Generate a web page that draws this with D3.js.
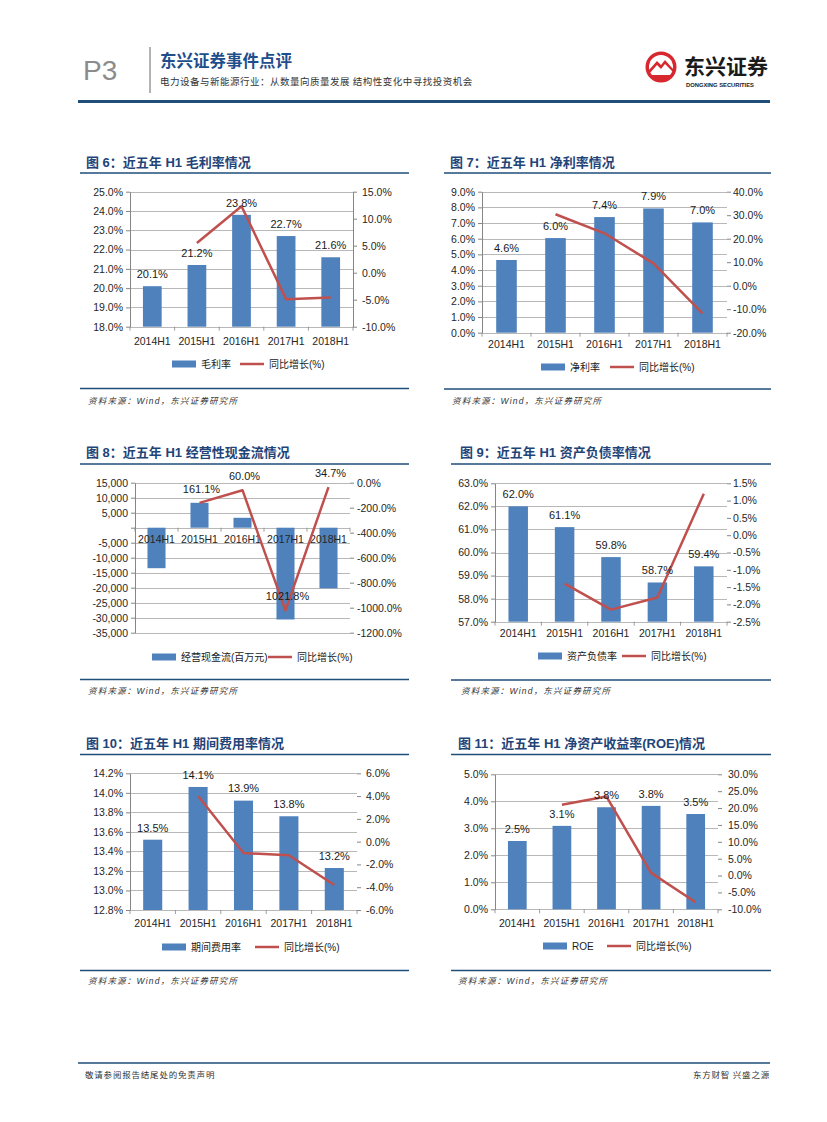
<!DOCTYPE html>
<html><head><meta charset="utf-8">
<script src="https://cdn.jsdelivr.net/npm/d3@7"></script>
<style>
body{margin:0;background:#fff;}
svg{display:block;font-family:"Liberation Sans",Arial,"Noto Sans CJK SC",sans-serif;}
</style></head><body>
<svg id="page" width="827" height="1122"></svg>
<script>
// ---------- DATA ----------
const categories = ["2014H1","2015H1","2016H1","2017H1","2018H1"];

// 图6 毛利率
const grossMargin = [20.1, 21.2, 23.8, 22.7, 21.6];
const grossMarginYoY = [null, 5.5, 12.3, -4.9, -4.6];
const grossLeftTicks = [18, 19, 20, 21, 22, 23, 24, 25];
const grossRightTicks = [-10, -5, 0, 5, 10, 15];

// 图7 净利率
const netMargin = [4.64, 6.04, 7.38, 7.93, 7.04];
const netMarginYoY = [null, 30.4, 22.3, 9.5, -11.8];
const netLeftTicks = [0, 1, 2, 3, 4, 5, 6, 7, 8, 9];
const netRightTicks = [-20, -10, 0, 10, 20, 30, 40];

// 图8 经营性现金流
const cashFlow = [-13500, 8300, 3300, -30600, -20200];
const cashFlowYoY = [null, -161.1, -60.0, -1021.8, -34.7];
const cashLeftTicks = [15000, 10000, 5000, 0, -5000, -10000, -15000, -20000, -25000, -30000, -35000];
const cashRightTicks = [0, -200, -400, -600, -800, -1000, -1200];

// 图9 资产负债率
const debtRatio = [62.0, 61.1, 59.8, 58.7, 59.4];
const debtRatioYoY = [null, -1.4, -2.15, -1.8, 1.2];
const debtLeftTicks = [57, 58, 59, 60, 61, 62, 63];
const debtRightTicks = [-2.5, -2.0, -1.5, -1.0, -0.5, 0, 0.5, 1.0, 1.5];

// 图10 期间费用率
const expenseRatio = [13.52, 14.06, 13.92, 13.76, 13.23];
const expenseRatioYoY = [null, 4.0, -1.0, -1.2, -3.8];
const expenseLeftTicks = [12.8, 13.0, 13.2, 13.4, 13.6, 13.8, 14.0, 14.2];
const expenseRightTicks = [-6, -4, -2, 0, 2, 4, 6];

// 图11 ROE
const roe = [2.53, 3.09, 3.78, 3.83, 3.53];
const roeYoY = [null, 21.0, 23.4, 0.8, -7.9];
const roeLeftTicks = [0, 1, 2, 3, 4, 5];
const roeRightTicks = [-10, -5, 0, 5, 10, 15, 20, 25, 30];

const yoyName = "同比增长(%)";

// ---------- HELPERS ----------
const svg = d3.select("#page");
svg.append("rect").attr("width",827).attr("height",1122).attr("fill","#fff");
const BAR = "#4F81BD", LINE = "#C0504D", GRID = "#a6a6a6", AXIS = "#868686";
const TITLE = "#1F4478", RULE = "#1F4E79";
const pct1 = v => (v < 0 ? "-" : "") + Math.abs(v).toFixed(1) + "%";
const absPct1 = v => Math.abs(v).toFixed(1) + "%";
const thousands = v => v === 0 ? "" : (v < 0 ? "-" : "") + d3.format(",")(Math.abs(v));

function drawChart(o) {
  const g = svg.append("g");
  const x = d3.scaleBand().domain(categories).range([o.left, o.right]).paddingInner(0.58).paddingOuter(0.29);
  const yL = d3.scaleLinear().domain(d3.extent(o.leftTicks)).range([o.bottom, o.top]);
  const yR = d3.scaleLinear().domain(d3.extent(o.rightTicks)).range([o.bottom, o.top]);
  const base = o.zeroBase ? yL(0) : o.bottom;

  // gridlines
  g.selectAll(".grid").data(o.leftTicks).join("line")
    .attr("x1", o.left).attr("x2", o.right)
    .attr("y1", d => Math.round(yL(d)) + 0.5).attr("y2", d => Math.round(yL(d)) + 0.5)
    .attr("stroke", GRID).attr("stroke-width", 0.8);

  // category tick marks on baseline
  const step = x.step();
  g.selectAll(".xt").data(d3.range(categories.length + 1)).join("line")
    .attr("x1", i => o.left + i * step).attr("x2", i => o.left + i * step)
    .attr("y1", base).attr("y2", base + 4)
    .attr("stroke", AXIS).attr("stroke-width", 0.8);

  // bars
  g.selectAll(".bar").data(o.bars).join("rect")
    .attr("x", (d, i) => x(categories[i]))
    .attr("width", x.bandwidth())
    .attr("y", d => Math.min(yL(d), base))
    .attr("height", d => Math.abs(yL(d) - base))
    .attr("fill", BAR);

  // left axis
  const ax = g.append("g").attr("transform", `translate(${o.left},0)`)
    .call(d3.axisLeft(yL).tickValues(o.leftTicks).tickSize(4).tickSizeOuter(0).tickPadding(3).tickFormat(o.leftFmt));
  ax.select(".domain").attr("stroke", AXIS);
  ax.selectAll(".tick line").attr("stroke", AXIS);
  ax.selectAll("text").attr("font-size", 10.5).attr("fill", "#262626").attr("font-family", "Liberation Sans");

  // right axis
  const ar = g.append("g").attr("transform", `translate(${o.right},0)`)
    .call(d3.axisRight(yR).tickValues(o.rightTicks).tickSize(4).tickSizeOuter(0).tickPadding(o.rightPad || 4).tickFormat(o.rightFmt));
  if (o.rightLine) ar.select(".domain").attr("stroke", AXIS); else ar.select(".domain").remove();
  ar.selectAll(".tick line").attr("stroke", AXIS);
  ar.selectAll("text").attr("font-size", 10.5).attr("fill", "#262626").attr("font-family", "Liberation Sans");

  // x labels
  g.selectAll(".xl").data(categories).join("text")
    .attr("x", d => x(d) + x.bandwidth() / 2).attr("y", o.xLabelY).attr("dy", "0.35em")
    .attr("text-anchor", "middle").attr("font-size", 10.5).attr("fill", "#262626").text(d => d);

  // line
  const pts = o.line.map((v, i) => ({ c: categories[i], v })).filter(d => d.v != null);
  g.append("path").datum(pts)
    .attr("d", d3.line().x(d => x(d.c) + x.bandwidth() / 2).y(d => yR(d.v)))
    .attr("fill", "none").attr("stroke", LINE).attr("stroke-width", 2.5).attr("stroke-linejoin", "round");

  // bar labels
  if (o.barLabels) {
    g.selectAll(".bl").data(o.bars).join("text")
      .attr("x", (d, i) => x(categories[i]) + x.bandwidth() / 2)
      .attr("y", d => yL(d) - 12).attr("dy", "0.35em")
      .attr("text-anchor", "middle").attr("font-size", 11).attr("fill", "#1a1a1a")
      .text(d => d.toFixed(1) + "%");
  }
  if (o.lineLabels) {
    g.selectAll(".ll").data(pts).join("text")
      .attr("x", d => x(d.c) + x.bandwidth() / 2 + 2)
      .attr("y", d => yR(d.v) - 14).attr("dy", "0.35em")
      .attr("text-anchor", "middle").attr("font-size", 11).attr("fill", "#1a1a1a")
      .text(d => absPct1(d.v));
  }

  // legend
  const lg = g.append("g").attr("font-family", "Liberation Sans, Noto Sans CJK SC").attr("font-size", 10).attr("fill", "#1a1a1a");
  lg.append("rect").attr("x", o.legBarX).attr("y", o.legendY - 3.5).attr("width", 24).attr("height", 7).attr("fill", BAR);
  lg.append("text").attr("x", o.legBarX + 29).attr("y", o.legendY).attr("dy", "0.35em").text(o.barName);
  lg.append("line").attr("x1", o.legLineX).attr("x2", o.legLineX + 24).attr("y1", o.legendY).attr("y2", o.legendY)
    .attr("stroke", LINE).attr("stroke-width", 2.5);
  lg.append("text").attr("x", o.legLineX + 29).attr("y", o.legendY).attr("dy", "0.35em").text(yoyName);
}

// ---------- HEADER ----------
const hdr = svg.append("g");
hdr.append("text").attr("x", 83).attr("y", 80).attr("font-size", 28).attr("fill", "#8c8c8c")
  .attr("font-family", "Liberation Sans Narrow, Liberation Sans").text("P3");
hdr.append("line").attr("x1", 150).attr("x2", 150).attr("y1", 47).attr("y2", 93).attr("stroke", "#9a9a9a").attr("stroke-width", 1.5);
hdr.append("text").attr("x", 160).attr("y", 67).attr("font-size", 16.5).attr("font-weight", "bold")
  .attr("fill", "#1F4E8C").attr("font-family", "Noto Sans CJK SC").text("东兴证券事件点评");
hdr.append("text").attr("x", 160).attr("y", 84.5).attr("font-size", 9.5).attr("fill", "#333")
  .attr("font-family", "Noto Sans CJK SC").attr("letter-spacing", 0.5)
  .text("电力设备与新能源行业：从数量向质量发展 结构性变化中寻找投资机会");
hdr.append("line").attr("x1", 78).attr("x2", 770).attr("y1", 101.5).attr("y2", 101.5).attr("stroke", RULE).attr("stroke-width", 3);
// logo
const logo = hdr.append("g").attr("transform", "translate(661,67)");
logo.append("circle").attr("r", 15.5).attr("fill", "#D7282F");
logo.append("circle").attr("r", 12).attr("fill", "#fff");
logo.append("path").attr("d", "M-12,3 L-4,-6 L0,-2 L4,-7 L12,2 L12,5 L4,-3 L0,2 L-4,-2 L-12,7 Z").attr("fill", "#D7282F");
logo.append("path").attr("d", "M-11,8 L12,8 L10,12 L-8,12 Z").attr("fill", "#D7282F");
hdr.append("text").attr("x", 684).attr("y", 74).attr("font-size", 21).attr("font-weight", "bold")
  .attr("fill", "#1a1a1a").attr("font-family", "Noto Sans CJK SC").text("东兴证券");
hdr.append("text").attr("x", 686).attr("y", 86.5).attr("font-size", 5.8).attr("font-weight", "bold")
  .attr("fill", "#1a1a1a").attr("font-family", "Liberation Sans").text("DONGXING SECURITIES");

// ---------- SECTION FRAMES ----------
const sections = [
  { x: 86, ty: 162, l1: 80, l2: 409, ly: 173, by: 388.5, sy: 401, sx: 88, t: "图 6：近五年 H1 毛利率情况" },
  { x: 450, ty: 162, l1: 444, l2: 771, ly: 173, by: 389, sy: 401, sx: 452, t: "图 7：近五年 H1 净利率情况" },
  { x: 86, ty: 452, l1: 80, l2: 409, ly: 464, by: 679.5, sy: 691, sx: 88, t: "图 8：近五年 H1 经营性现金流情况" },
  { x: 460, ty: 452, l1: 451, l2: 771, ly: 464, by: 680, sy: 691, sx: 461, t: "图 9：近五年 H1 资产负债率情况" },
  { x: 86, ty: 743, l1: 80, l2: 409, ly: 754.5, by: 970.5, sy: 981, sx: 88, t: "图 10：近五年 H1 期间费用率情况" },
  { x: 458, ty: 743, l1: 451, l2: 771, ly: 754.5, by: 970.5, sy: 981, sx: 458, t: "图 11：近五年 H1 净资产收益率(ROE)情况" }
];
sections.forEach(s => {
  svg.append("text").attr("x", s.x).attr("y", s.ty).attr("dy", "0.35em").attr("font-size", 13).attr("font-weight", "bold")
    .attr("fill", TITLE).attr("font-family", "Liberation Sans, Noto Sans CJK SC").text(s.t);
  svg.append("line").attr("x1", s.l1).attr("x2", s.l2).attr("y1", s.ly).attr("y2", s.ly).attr("stroke", RULE).attr("stroke-width", 1.5);
  svg.append("line").attr("x1", s.l1).attr("x2", s.l2).attr("y1", s.by).attr("y2", s.by).attr("stroke", RULE).attr("stroke-width", 1.5);
  svg.append("text").attr("x", s.sx).attr("y", s.sy).attr("dy", "0.35em").attr("font-size", 8.5).attr("font-style", "italic")
    .attr("fill", "#333").attr("letter-spacing", 1.2).attr("font-family", "Liberation Sans, Noto Sans CJK SC")
    .text("资料来源：Wind，东兴证券研究所");
});

// ---------- CHARTS ----------
drawChart({ left: 130, right: 353, top: 191.7, bottom: 326.7, leftTicks: grossLeftTicks, rightTicks: grossRightTicks,
  bars: grossMargin, line: grossMarginYoY, leftFmt: pct1, rightFmt: pct1, rightLine: true, rightPad: 5,
  xLabelY: 341, barLabels: true, legendY: 364, legBarX: 172, legLineX: 240, barName: "毛利率" });

drawChart({ left: 482, right: 727, top: 191.7, bottom: 332.7, leftTicks: netLeftTicks, rightTicks: netRightTicks,
  bars: netMargin, line: netMarginYoY, leftFmt: pct1, rightFmt: pct1, rightLine: false, rightPad: 2,
  xLabelY: 344, barLabels: true, legendY: 367, legBarX: 541, legLineX: 610, barName: "净利率" });

drawChart({ left: 135, right: 350, top: 482.7, bottom: 632.7, leftTicks: cashLeftTicks, rightTicks: cashRightTicks,
  bars: cashFlow, line: cashFlowYoY, leftFmt: thousands, rightFmt: pct1, rightLine: false, rightPad: 3, zeroBase: true,
  xLabelY: 539, barLabels: false, lineLabels: true, legendY: 657, legBarX: 152, legLineX: 268, barName: "经营现金流(百万元)" });

drawChart({ left: 495, right: 727, top: 483.3, bottom: 621.7, leftTicks: debtLeftTicks, rightTicks: debtRightTicks,
  bars: debtRatio, line: debtRatioYoY, leftFmt: pct1, rightFmt: pct1, rightLine: false, rightPad: 2,
  xLabelY: 633, barLabels: true, legendY: 656, legBarX: 538, legLineX: 622, barName: "资产负债率" });

drawChart({ left: 130, right: 357, top: 773.3, bottom: 910, leftTicks: expenseLeftTicks, rightTicks: expenseRightTicks,
  bars: expenseRatio, line: expenseRatioYoY, leftFmt: pct1, rightFmt: pct1, rightLine: false, rightPad: 5,
  xLabelY: 923, barLabels: true, legendY: 947, legBarX: 162, legLineX: 255, barName: "期间费用率" });

drawChart({ left: 495, right: 718, top: 774.3, bottom: 909.3, leftTicks: roeLeftTicks, rightTicks: roeRightTicks,
  bars: roe, line: roeYoY, leftFmt: pct1, rightFmt: pct1, rightLine: false, rightPad: 6,
  xLabelY: 923, barLabels: true, legendY: 946, legBarX: 543, legLineX: 607, barName: "ROE" });

// ---------- FOOTER ----------
svg.append("line").attr("x1", 78).attr("x2", 770).attr("y1", 1063).attr("y2", 1063).attr("stroke", RULE).attr("stroke-width", 1.5);
svg.append("text").attr("x", 85).attr("y", 1078).attr("font-size", 8.5).attr("fill", "#333").attr("letter-spacing", 0.8)
  .attr("font-family", "Noto Sans CJK SC").text("敬请参阅报告结尾处的免责声明");
svg.append("text").attr("x", 770).attr("y", 1078).attr("text-anchor", "end").attr("font-size", 8.5).attr("fill", "#333")
  .attr("letter-spacing", 0.8).attr("font-family", "Noto Sans CJK SC").text("东方财智 兴盛之源");
</script>
</body></html>
